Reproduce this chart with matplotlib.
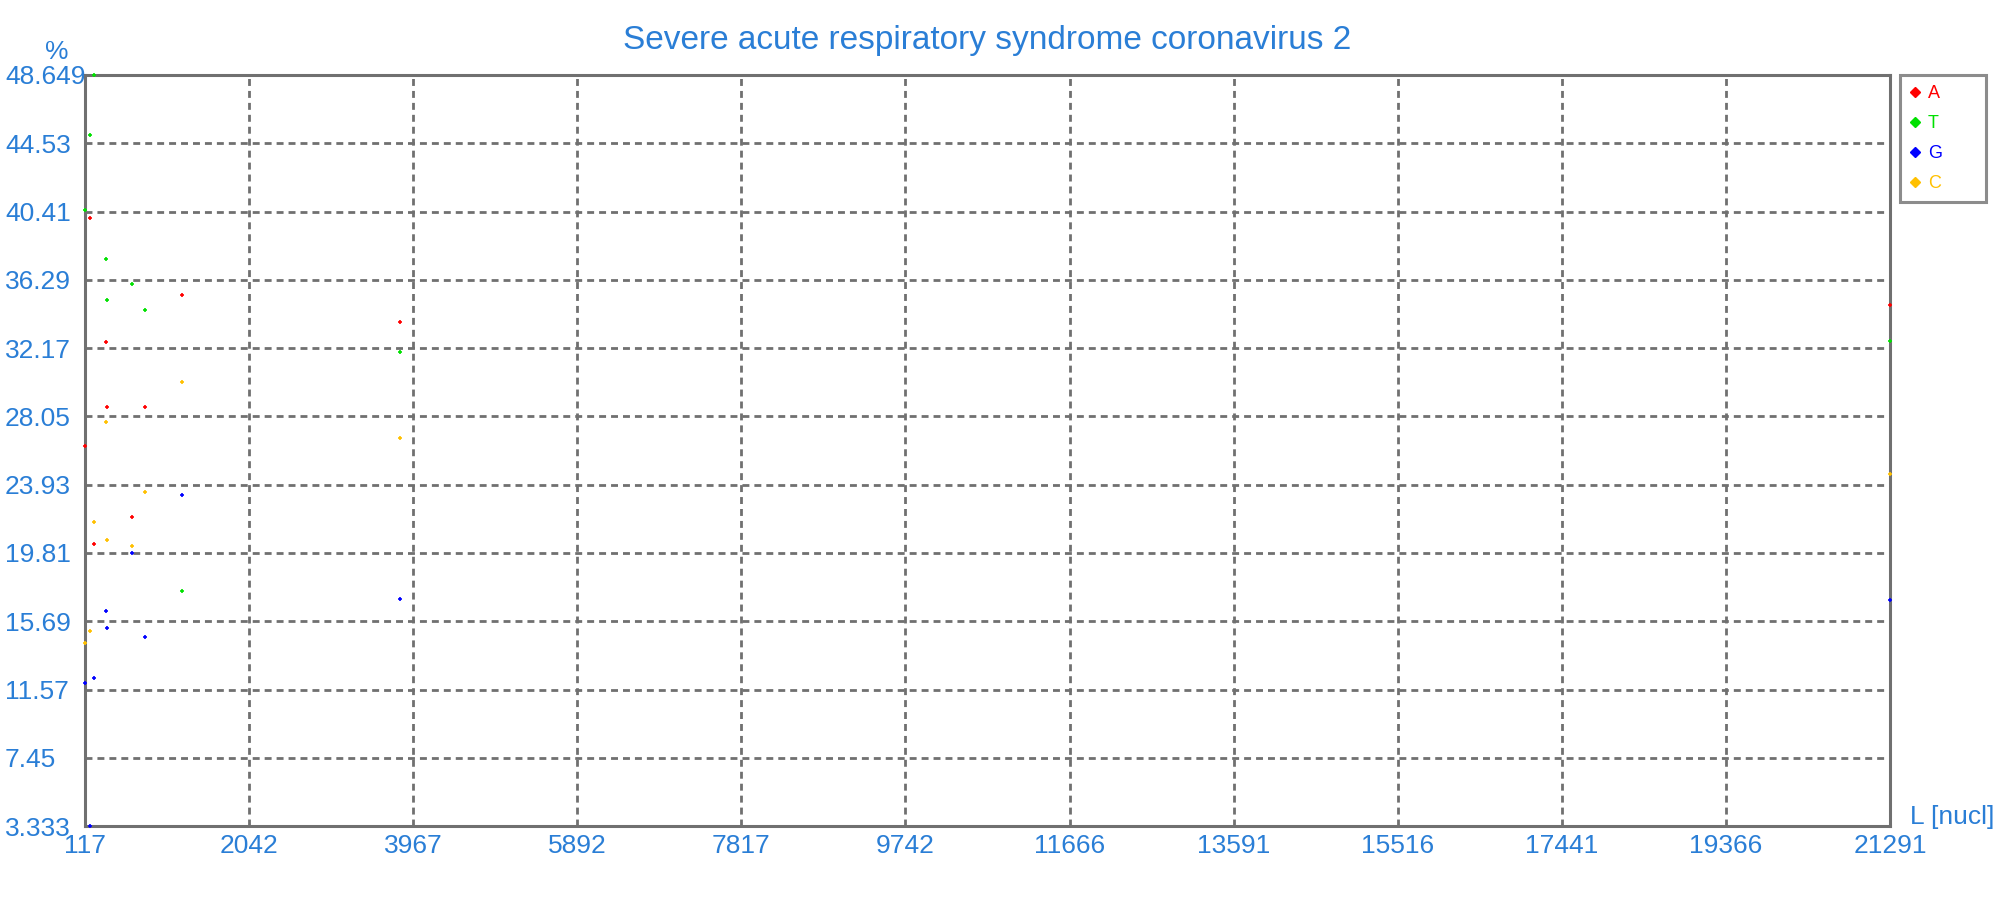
import matplotlib
matplotlib.use("Agg")
import matplotlib.pyplot as plt
from matplotlib.lines import Line2D

plt.rcParams['font.family'] = ['Liberation Sans', 'DejaVu Sans']

# позиции по оси L [nucl]
positions = [120, 179, 226, 362, 372, 672, 824, 1258, 3816, 21291]

# значения в процентах по нуклеотидам
a_vals = [26.25, 40.00, 20.33, 32.52, 28.60, 21.96, 28.60, 35.36, 33.73, 34.75]
t_vals = [40.49, 45.01, 48.63, 37.53, 35.06, 36.02, 34.45, 17.50, 31.92, 32.58]
g_vals = [11.95, 3.35, 12.25, 16.29, 15.26, 19.79, 14.72, 23.29, 17.01, 16.95]
c_vals = [14.38, 15.08, 21.66, 27.69, 20.57, 20.21, 23.47, 30.11, 26.73, 24.56]

names = ["A", "T", "G", "C"]
colors = ["#ff0000", "#00e000", "#0000ff", "#ffc000"]

x_ticks = [117, 2042, 3967, 5892, 7817, 9742, 11666, 13591, 15516, 17441, 19366, 21291]
y_ticks = [3.333, 7.45, 11.57, 15.69, 19.81, 23.93, 28.05, 32.17, 36.29, 40.41, 44.53, 48.649]
y_labels = ["3.333", "7.45", "11.57", "15.69", "19.81", "23.93", "28.05",
            "32.17", "36.29", "40.41", "44.53", "48.649"]

text_blue = "#2a7ed6"
frame_grey = "#707070"

fig = plt.figure(figsize=(20, 9), dpi=100)
ax = fig.add_axes([0.0425, 0.0822, 0.9025, 0.8345])

for vals, col in zip([a_vals, t_vals, g_vals, c_vals], colors):
    ax.plot(positions, vals, linestyle="none", marker="+", markersize=3.5,
            markeredgewidth=1.2, color=col, clip_on=False, zorder=3)

ax.set_xlim(x_ticks[0], x_ticks[-1])
ax.set_ylim(y_ticks[0], y_ticks[-1])
ax.set_xticks(x_ticks)
ax.set_xticklabels([str(v) for v in x_ticks])
ax.set_yticks(y_ticks)
ax.set_yticklabels(y_labels)

ax.tick_params(axis="both", length=0, labelsize=19, labelcolor=text_blue)
ax.tick_params(axis="x", pad=6)
ax.tick_params(axis="y", pad=57.6)
for lbl in ax.get_yticklabels():
    lbl.set_horizontalalignment("left")

# сетка
ax.grid(True, color=frame_grey, linewidth=2.0, linestyle=(0, (2.5, 1.8)))
ax.set_axisbelow(True)
for sp in ax.spines.values():
    sp.set_color(frame_grey)
    sp.set_linewidth(2.2)

fig.text(0.4935, 1 - 41 / 900, "Severe acute respiratory syndrome coronavirus 2",
         ha="center", va="center", fontsize=24, color=text_blue)
fig.text(57 / 2000, 1 - 52 / 900, "%", ha="center", va="center",
         fontsize=19, color=text_blue)
fig.text(1994 / 2000, 1 - 817 / 900, "L [nucl]", ha="right", va="center",
         fontsize=19, color=text_blue)

handles = [Line2D([], [], linestyle="none", marker="D", markersize=5.5,
                  color=c) for c in colors]
leg = fig.legend(handles, names, loc="upper left",
                 bbox_to_anchor=(1900 / 2000, 1 - 196 / 900, 86 / 2000, 121 / 900),
                 mode="expand", borderaxespad=0, fontsize=13, fancybox=False,
                 handlelength=0.6, handletextpad=0.4, labelspacing=0.72,
                 borderpad=0.55)
leg.get_frame().set_edgecolor(frame_grey)
leg.get_frame().set_linewidth(2.2)
for txt, c in zip(leg.get_texts(), colors):
    txt.set_color(c)

fig.savefig("out.png", dpi=100)
